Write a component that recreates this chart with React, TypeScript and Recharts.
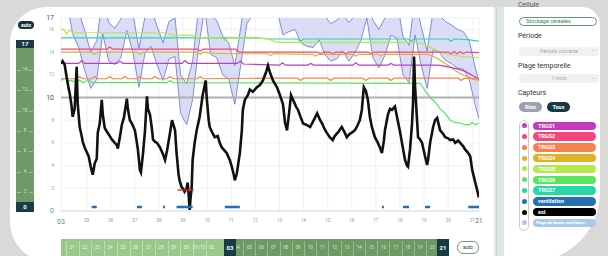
import React from 'react';
import { ComposedChart, Line, Area, XAxis, YAxis, CartesianGrid } from 'recharts';

// time axis in hours since day 00 of the month
const xStart = 94.4;
const xEnd = 510.7;
const dayTickHours = [120, 144, 168, 192, 216, 240, 264, 288, 312, 336, 360, 384, 408, 432, 456, 480, 504];
const yTickValues = [0, 2, 4, 6, 8, 10, 12, 14, 16, 17];

const extReadings: [number, number][] = [
  [94.4, 13.0], [96, 13.2], [98, 12.9], [100, 11.8], [102, 10.8], [103, 10.4], [105, 9.2], [106, 8.3], [108, 9.0], [110, 12.7],
  [111, 9.5], [113, 7.4], [115, 6.6], [116, 6.1], [118, 5.6], [120, 5.2], [122, 4.8], [124, 3.9], [126, 3.2], [128, 4.2],
  [130, 4.6], [131, 6.9], [133, 7.7], [135, 9.8], [136, 8.5], [138, 7.3], [140, 7.0], [143, 6.6], [145, 6.3], [148, 6.0],
  [150, 5.8], [151, 5.5], [153, 6.5], [155, 7.6], [157, 8.2], [160, 9.9], [161, 9.0], [163, 8.0], [165, 7.7], [168, 7.1],
  [170, 6.0], [171, 5.4], [173, 3.6], [174, 3.4], [176, 5.0], [178, 7.0], [180, 10.1], [181, 9.0], [183, 8.5], [185, 7.2],
  [186, 6.3], [188, 6.1], [190, 6.0], [193, 5.6], [196, 5.0], [198, 4.5], [200, 5.3], [203, 6.9], [205, 8.0], [207, 7.4],
  [208, 7.1], [209.5, 5.1], [211.5, 3.2], [212.5, 2.7], [214.5, 2.1], [216.5, 1.9], [217.5, 1.7], [219.5, 2.0], [220.5, 2.5], [221.5, 1.5],
  [222.5, 0.1], [223.5, 1.2], [224.5, 2.0], [225.5, 4.5], [227.5, 6.0], [229.5, 7.1], [232.5, 8.3], [235.5, 10.2], [238.5, 11.5], [239.5, 10.0],
  [241.5, 8.0], [242.5, 7.4], [244.5, 7.0], [247.5, 6.5], [250.5, 6.6], [252.5, 6.0], [254.5, 5.6], [257.5, 5.3], [259.5, 5.1], [262.5, 4.5],
  [264.5, 3.9], [266.5, 3.2], [267.5, 2.7], [269.5, 3.3], [272.5, 5.1], [274.5, 7.1], [275.5, 8.9], [277.5, 9.8], [280.5, 10.2], [282.5, 10.7],
  [285.5, 10.5], [289.5, 10.9], [292.5, 11.1], [295.5, 11.5], [298.5, 12.2], [300.5, 12.8], [302.5, 12.2], [305.5, 11.5], [309.5, 10.9], [312.5, 10.2],
  [315.5, 9.4], [317.5, 7.8], [319.5, 7.1], [321.5, 8.6], [323.5, 10.2], [325.5, 9.8], [328.5, 9.2], [330.5, 8.9], [332.5, 8.4], [335.5, 7.7],
  [338.5, 7.6], [342.5, 7.4], [345.5, 7.9], [349.5, 8.6], [352.5, 8.0], [354.5, 7.7], [357, 7.2], [359, 6.9], [362, 6.5], [365, 6.25],
  [367, 6.6], [370, 6.9], [374, 7.4], [377, 6.9], [379, 6.5], [382, 6.8], [384, 6.9], [387, 7.1], [389, 7.4], [392, 8.0],
  [394, 8.9], [396, 10.9], [398, 10.6], [400, 9.8], [402, 8.3], [404, 7.4], [407, 6.5], [410, 6.0], [412, 5.6], [414, 5.1],
  [416, 6.2], [417, 7.1], [420, 8.5], [422, 9.0], [424, 8.9], [427, 9.2], [429, 8.3], [432, 7.0], [434, 6.0], [437, 4.5],
  [439, 4.0], [440, 3.9], [442, 5.4], [444, 7.7], [445, 9.5], [446, 13.6], [447, 11.0], [449, 8.0], [450, 6.5], [452, 6.3],
  [454, 6.0], [457, 4.8], [459, 4.05], [460, 4.5], [462, 6.0], [465, 7.4], [467, 8.0], [469, 8.2], [472, 7.1], [475, 6.8],
  [477, 6.5], [480, 6.4], [482, 6.25], [485, 6.3], [487, 6.0], [490, 6.2], [492, 6.0], [495, 5.7], [497, 5.4], [500, 5.1],
  [502, 4.8], [504, 3.6], [507, 2.5], [509, 1.8], [510.5, 1.2],
];

const bandTimes = [
  94.4, 100, 106, 112, 118, 124, 130, 136, 142, 148, 154, 160, 166, 172, 178, 184, 190, 196, 202, 208,
  213.5, 219.5, 225.5, 231.5, 237.5, 243.5, 249.5, 255.5, 261.5, 267.5, 273.5, 279.5, 285.5, 291.5, 297.5, 303.5, 309.5, 315.5, 321.5, 327.5,
  333.5, 339.5, 345.5, 351.5, 357, 363, 369, 375, 381, 387, 393, 399, 405, 411, 417, 423, 429, 435, 441, 447,
  453, 459, 465, 471, 477, 483, 489, 495, 501, 507, 510.7,
];
const bandLow = [
  19.7, 18.5, 15.6, 14.4, 12.4, 10.8, 11.6, 15.6, 13.2, 12.9, 13.5, 15.9, 14.0, 10.9, 13.9, 14.5, 12.9, 11.5, 13.4, 13.6,
  8.6, 7.6, 9.8, 14.5, 17.8, 13.8, 13.5, 12.0, 11.6, 9.4, 12.9, 16.5, 17.3, 17.6, 18.8, 18.6, 17.7, 15.5, 15.8, 16.0,
  14.8, 14.5, 14.4, 15.1, 13.8, 13.2, 13.4, 14.1, 13.2, 13.9, 15.0, 17.0, 13.5, 12.6, 13.7, 15.5, 15.2, 12.0, 11.3, 15.5,
  12.9, 10.8, 14.2, 14.0, 13.3, 13.0, 12.6, 12.5, 11.6, 9.3, 8.1,
];
const bandHigh = [
  23.0, 21.9, 19.0, 17.6, 15.9, 14.0, 15.0, 18.8, 16.6, 16.1, 16.9, 19.1, 17.4, 14.3, 17.1, 17.9, 16.3, 14.8, 16.7, 17.0,
  12.0, 11.2, 13.2, 17.9, 21.1, 17.2, 16.8, 15.4, 14.8, 12.8, 16.2, 19.9, 20.6, 21.0, 22.1, 22.0, 21.0, 18.9, 19.1, 19.4,
  18.1, 17.8, 17.8, 18.4, 17.2, 16.5, 16.8, 17.4, 16.6, 17.2, 18.4, 20.3, 16.8, 16.0, 17.0, 18.9, 18.5, 15.4, 14.6, 18.8,
  16.3, 14.1, 17.6, 17.3, 16.7, 16.4, 16.0, 15.8, 15.0, 12.6, 11.4,
];

const trgs1: [number, number][] = [[94.4, 13.0], [112, 13.0], [115, 13.25], [118, 13.0], [150, 13.0], [153, 13.2], [156, 13.0], [215, 13.0], [218, 13.25], [221, 13.0], [270, 13.0], [273, 13.2], [276, 12.95], [312, 12.85], [315, 13.05], [318, 12.85], [340, 12.85], [343, 13.0], [346, 12.85], [385, 12.85], [388, 13.05], [391, 12.85], [420, 12.85], [423, 13.0], [426, 12.85], [470, 12.85], [480, 12.7], [490, 12.5], [497, 12.3], [503, 12.0], [510.7, 11.6]];
const trgs2: [number, number][] = [[94.4, 14.25], [140, 14.25], [143, 14.45], [146, 14.25], [230, 14.25], [233, 14.1], [236, 14.25], [268, 14.25], [272, 14.0], [350, 14.0], [353, 13.85], [356, 14.0], [362, 14.0], [365, 13.85], [368, 14.0], [375, 14.0], [378, 13.85], [381, 14.0], [400, 14.0], [403, 13.85], [406, 14.0], [480, 14.0], [483, 13.85], [486, 14.05], [489, 13.85], [492, 14.05], [495, 13.85], [498, 14.0], [510.7, 13.95]];
const trgs3: [number, number][] = [[94.4, 11.65], [110, 11.65], [113, 11.85], [116, 11.65], [125, 11.65], [128, 11.85], [131, 11.65], [140, 11.65], [143, 11.85], [146, 11.65], [155, 11.65], [158, 11.85], [161, 11.65], [170, 11.65], [173, 11.85], [176, 11.65], [185, 11.65], [188, 11.85], [191, 11.65], [200, 11.65], [203, 11.85], [206, 11.65], [230, 11.65], [233, 11.85], [236, 11.65], [300, 11.7], [330, 11.7], [333, 11.5], [336, 11.7], [360, 11.7], [363, 11.5], [366, 11.7], [395, 11.7], [398, 11.5], [401, 11.7], [420, 11.7], [423, 11.5], [426, 11.7], [490, 11.7], [493, 11.5], [496, 11.7], [510.7, 11.65]];
const trgs4: [number, number][] = [[94.4, 14.0], [125, 14.0], [128, 13.8], [131, 14.0], [170, 14.0], [173, 13.8], [176, 14.0], [230, 14.0], [233, 13.8], [236, 14.0], [245, 13.9], [265, 13.85], [300, 13.85], [303, 13.7], [306, 13.85], [345, 13.8], [348, 13.65], [351, 13.8], [385, 13.8], [388, 13.65], [391, 13.8], [410, 13.8], [413, 13.65], [416, 13.8], [460, 13.8], [468, 13.5], [475, 13.1], [482, 12.7], [488, 12.3], [494, 12.0], [500, 11.8], [505, 11.6], [510.7, 11.5]];
const trgs5: [number, number][] = [[94.4, 16.0], [97, 16.0], [100, 15.6], [103, 15.95], [106, 15.7], [200, 15.7], [205, 15.5], [225, 15.5], [230, 15.25], [255, 15.25], [258, 15.0], [261, 15.25], [300, 15.2], [308, 14.9], [312, 14.85], [450, 14.85], [458, 14.6], [465, 14.3], [472, 14.0], [480, 13.8], [495, 13.6], [510.7, 13.5]];
const trgs6: [number, number][] = [[94.4, 11.5], [98, 11.7], [101, 11.45], [105, 11.5], [110, 11.3], [113, 11.55], [116, 11.3], [122, 11.55], [125, 11.3], [200, 11.3], [203, 11.5], [206, 11.3], [452, 11.25], [457, 10.6], [462, 10.0], [467, 9.6], [472, 9.0], [477, 8.6], [482, 8.0], [487, 7.8], [492, 7.75], [497, 7.6], [501, 7.6], [504, 7.8], [507, 7.6], [510.7, 7.75]];
const trgs7: [number, number][] = [[94.4, 15.25], [290, 15.25], [300, 15.15], [330, 15.15], [333, 14.95], [336, 15.15], [440, 15.15], [443, 14.95], [446, 15.15], [480, 15.15], [483, 14.95], [486, 15.15], [500, 15.1], [510.7, 14.95]];

const ventilationPeriods: [number, number][] = [[125, 130], [170, 175], [196, 198], [209.5, 225.5], [257.5, 272.5], [414, 416], [435, 441], [457, 462], [500, 510.7]];
const ventilationLevel = 0.35;
const alertPeriod: [number, number] = [210.5, 226.5];
const alertLevel = 1.85;
const referenceLevel = 10;

const legendItems = [
  { name: 'TRGS1', color: '#c13cbc' },
  { name: 'TRGS2', color: '#f4467c' },
  { name: 'TRGS3', color: '#f7814c' },
  { name: 'TRGS4', color: '#e3b02c' },
  { name: 'TRGS5', color: '#b4e84b' },
  { name: 'TRGS6', color: '#5ae65c' },
  { name: 'TRGS7', color: '#27d7a6' },
  { name: 'ventilation', color: '#2470b2' },
  { name: 'ext', color: '#000000' },
  { name: 'Plage de bonne ventilation', color: '#a9c9e7' },
];

const sliderLeftLabels = ['21', '22', '23', '24', '25', '26', '27', '28', '29', '30', '01/12', '02'];
const sliderRightLabels = ['04', '05', '06', '07', '08', '09', '10', '11', '12', '13', '14', '15', '16', '17', '18', '19', '20'];
const vSliderLabels = [14, 12, 10, 8, 6, 4, 2];

const toRows = (pts: [number, number][]) => pts.map(([t, v]) => ({ t, v }));
const segRows = (segs: [number, number][], level: number) => {
  const rows: { t: number; v: number | null }[] = [];
  segs.forEach(([a, b]) => {
    rows.push({ t: a, v: level });
    rows.push({ t: b, v: level });
    rows.push({ t: b + 0.01, v: null });
  });
  return rows;
};

const extRows = toRows(extReadings);
const bandRows = bandTimes.map((t, i) => ({ t, range: [bandLow[i], bandHigh[i]] }));
const refRows = [{ t: xStart, v: referenceLevel }, { t: xEnd, v: referenceLevel }];
const ventRows = segRows(ventilationPeriods, ventilationLevel);
const alertRows = segRows([alertPeriod], alertLevel);

const FONT = 'Roboto, "Noto Sans", sans-serif';

const YTick = (props: any) => {
  const { x, y, payload } = props;
  const v = payload.value;
  const big = v === 0 || v === 10 || v === 17;
  return (
    <text x={x + 1} y={y} dy={big ? 2.4 : 1.6} textAnchor="end" fontSize={big ? 7 : 4.5}
      fill={v === 0 ? '#5b9a6e' : big ? '#555' : '#9a9a9a'} fontFamily={FONT}>{v}</text>
  );
};

const XTick = (props: any) => {
  const { x, y, payload } = props;
  const h = payload.value;
  const isStart = h === xStart;
  const isEnd = h === xEnd;
  const label = isStart ? '03' : isEnd ? '21' : String(Math.round(h / 24)).padStart(2, '0');
  return (
    <text x={x} y={y} dy={isStart ? 4.5 : isEnd ? 4 : 3.4} textAnchor="middle"
      fontSize={isStart ? 7 : isEnd ? 6.5 : 4.5}
      fill={isStart ? '#5b9a6e' : isEnd ? '#666' : '#9a9a9a'} fontFamily={FONT}>{label}</text>
  );
};

const abs = (s: React.CSSProperties): React.CSSProperties => ({ position: 'absolute', ...s });

export default function App() {
  const lineProps = { type: 'linear' as const, dot: false, isAnimationActive: false, dataKey: 'v', activeDot: false as const };
  return (
    <div style={abs({ left: 0, top: 0, width: 608, height: 256, overflow: 'hidden', background: '#d9d9d9', fontFamily: FONT })}>
      {/* card */}
      <div style={abs({ left: 10, top: 7, width: 590, height: 255, background: '#fff', borderRadius: '36px 18px 70px 40px' })} />
      {/* separator strip */}
      <div style={abs({ left: 494, top: 7, width: 10, height: 256, background: '#dce8e0' })} />
      <div style={abs({ left: 496, top: 7, width: 1, height: 256, background: '#c8d8cd' })} />

      {/* auto pill left */}
      <div style={abs({ left: 18, top: 21, width: 16, height: 8, borderRadius: 4, background: '#15323a', color: '#fff', fontSize: 5, fontWeight: 700, lineHeight: '8px', textAlign: 'center' })}>auto</div>

      {/* vertical slider */}
      <div style={abs({ left: 16, top: 40, width: 18, height: 8, background: '#1b3a44', color: '#fff', fontSize: 6, fontWeight: 700, lineHeight: '8px', textAlign: 'center' })}>17</div>
      <div style={abs({ left: 16, top: 48, width: 18, height: 154, background: '#6c9b66' })} />
      {vSliderLabels.map((v) => {
        const y = 70 + (14 - v) * 10.15;
        return (
          <React.Fragment key={v}>
            <div style={abs({ left: 17, top: y, width: 4, height: 0.6, background: 'rgba(255,255,255,0.35)' })} />
            <div style={abs({ left: 29, top: y, width: 4, height: 0.6, background: 'rgba(255,255,255,0.35)' })} />
            <div style={abs({ left: 16, top: y - 3, width: 18, height: 6, fontSize: 4.5, lineHeight: '6px', color: '#d4e6cf', textAlign: 'center' })}>{v}</div>
          </React.Fragment>
        );
      })}
      <div style={abs({ left: 16, top: 202, width: 18, height: 10, background: '#1b3a44', color: '#fff', fontSize: 6, fontWeight: 700, lineHeight: '10px', textAlign: 'center' })}>0</div>

      {/* chart */}
      <div style={abs({ left: 30, top: 10 })}>
        <ComposedChart width={460} height={220} margin={{ top: 8, right: 11, left: 0, bottom: 0 }}>
          <CartesianGrid stroke="#ececec" strokeWidth={0.8} />
          <XAxis type="number" dataKey="t" domain={[xStart, xEnd]} allowDataOverflow
            ticks={[xStart, ...dayTickHours, xEnd]} interval={0} height={19}
            tick={<XTick />} tickLine={false} axisLine={{ stroke: '#dddddd' }} />
          <YAxis type="number" domain={[0, 17]} allowDataOverflow ticks={yTickValues} interval={0}
            width={31} tick={<YTick />} tickLine={false} axisLine={false} />
          <Area data={bandRows} dataKey="range" type="linear" isAnimationActive={false}
            fill="#d2d4f5" fillOpacity={0.8} stroke="#6373d8" strokeWidth={0.8} dot={false} activeDot={false} />
          <Line {...lineProps} data={toRows(trgs7)} stroke="#27d7a6" strokeWidth={1.2} />
          <Line {...lineProps} data={toRows(trgs5)} stroke="#b4e84b" strokeWidth={1.2} />
          <Line {...lineProps} data={toRows(trgs2)} stroke="#f4467c" strokeWidth={1.2} />
          <Line {...lineProps} data={toRows(trgs4)} stroke="#e3b02c" strokeWidth={1.2} />
          <Line {...lineProps} data={toRows(trgs1)} stroke="#c13cbc" strokeWidth={1.2} />
          <Line {...lineProps} data={toRows(trgs3)} stroke="#f7814c" strokeWidth={1.2} />
          <Line {...lineProps} data={toRows(trgs6)} stroke="#5ae65c" strokeWidth={1.2} />
          <Line {...lineProps} data={refRows} stroke="#b0b0b0" strokeWidth={2} />
          <Line {...lineProps} data={extRows} stroke="#111111" strokeWidth={2.6} />
          <Line {...lineProps} data={alertRows} stroke="#e02424" strokeWidth={1.3} connectNulls={false} />
          <Line {...lineProps} data={ventRows} stroke="#2470b2" strokeWidth={2.4} connectNulls={false} />
        </ComposedChart>
      </div>

      {/* bottom slider */}
      <div style={abs({ left: 61, top: 239, width: 163, height: 20, background: '#98c98b' })} />
      <div style={abs({ left: 236, top: 239, width: 201, height: 20, background: '#6b9a63' })} />
      {sliderLeftLabels.map((l, i) => (
        <React.Fragment key={'l' + i}>
          <div style={abs({ left: 66 + i * 12.7, top: 241, width: 0.7, height: 15, background: 'rgba(255,255,255,0.35)' })} />
          <div style={abs({ left: 72 + i * 12.7 - 8, top: 245, width: 16, fontSize: 4.5, lineHeight: '6px', color: '#eef7ea', textAlign: 'center' })}>{l}</div>
        </React.Fragment>
      ))}
      {sliderRightLabels.map((l, i) => (
        <React.Fragment key={'r' + i}>
          <div style={abs({ left: 243 + i * 12.2, top: 241, width: 0.7, height: 15, background: 'rgba(255,255,255,0.3)' })} />
          <div style={abs({ left: 237 + i * 12.2 - 8, top: 245, width: 16, fontSize: 4.5, lineHeight: '6px', color: '#d6e6d0', textAlign: 'center' })}>{l}</div>
        </React.Fragment>
      ))}
      <div style={abs({ left: 224, top: 239, width: 12, height: 20, background: '#163b45', color: '#fff', fontSize: 6, fontWeight: 700, lineHeight: '17px', textAlign: 'center' })}>03</div>
      <div style={abs({ left: 437, top: 239, width: 12, height: 20, background: '#163b45', color: '#fff', fontSize: 6, fontWeight: 700, lineHeight: '17px', textAlign: 'center' })}>21</div>
      <div style={abs({ left: 457, top: 241, width: 20, height: 11, border: '1px solid #6aa07a', borderRadius: 6, background: '#fff', color: '#333', fontSize: 5, lineHeight: '11px', textAlign: 'center' })}>auto</div>

      {/* right panel */}
      <div style={abs({ left: 518, top: 1, fontSize: 7, color: '#555' })}>Cellule</div>
      <div style={abs({ left: 519, top: 16.5, width: 70, height: 7, border: '1px solid #5aa06a', borderRadius: 5, color: '#3d7f4f', fontSize: 5.5, lineHeight: '7px', paddingLeft: 6, boxSizing: 'content-box' })}>Stockage céréales</div>
      <div style={abs({ left: 518, top: 32, fontSize: 7, color: '#333' })}>Période</div>
      <div style={abs({ left: 519, top: 46.5, width: 80, height: 9, background: '#f1f1f1', borderRadius: 3, color: '#aaa', fontSize: 5, lineHeight: '9px', textAlign: 'center' })}>Période courante</div>
      <div style={abs({ left: 591, top: 46, fontSize: 5, color: '#aaa' })}>⌄</div>
      <div style={abs({ left: 518, top: 61.5, fontSize: 7, color: '#333' })}>Plage temporelle</div>
      <div style={abs({ left: 519, top: 74, width: 80, height: 9, background: '#f1f1f1', borderRadius: 3, color: '#aaa', fontSize: 5, lineHeight: '9px', textAlign: 'center' })}>1 mois</div>
      <div style={abs({ left: 591, top: 73.5, fontSize: 5, color: '#aaa' })}>⌄</div>
      <div style={abs({ left: 518, top: 88.5, fontSize: 7, color: '#333' })}>Capteurs</div>
      <div style={abs({ left: 519, top: 102, width: 23, height: 10, background: '#9ba2ac', borderRadius: 5, color: '#fff', fontSize: 5.5, fontWeight: 700, lineHeight: '10px', textAlign: 'center' })}>Rien</div>
      <div style={abs({ left: 547, top: 102, width: 23, height: 10, background: '#173a42', borderRadius: 5, color: '#fff', fontSize: 5.5, fontWeight: 700, lineHeight: '10px', textAlign: 'center' })}>Tous</div>
      <div style={abs({ left: 519, top: 120, width: 8, height: 109, border: '1px solid #cccccc', borderRadius: 5 })} />
      {legendItems.map((it, i) => {
        const top = 121.5 + i * 10.8;
        const long = it.name.length > 12;
        return (
          <React.Fragment key={it.name}>
            <div style={abs({ left: 521.5, top: top + 1.7, width: 5, height: 5, borderRadius: 3, background: it.color })} />
            <div style={abs({ left: 533, top, width: 63, height: 8.5, borderRadius: 5, background: it.color, color: '#fff', fontSize: long ? 4.3 : 5.5, letterSpacing: long ? -0.1 : 0, fontWeight: 700, lineHeight: '8.5px', paddingLeft: long ? 3 : 5, boxSizing: 'border-box', whiteSpace: 'nowrap' })}>{it.name}</div>
          </React.Fragment>
        );
      })}
    </div>
  );
}
